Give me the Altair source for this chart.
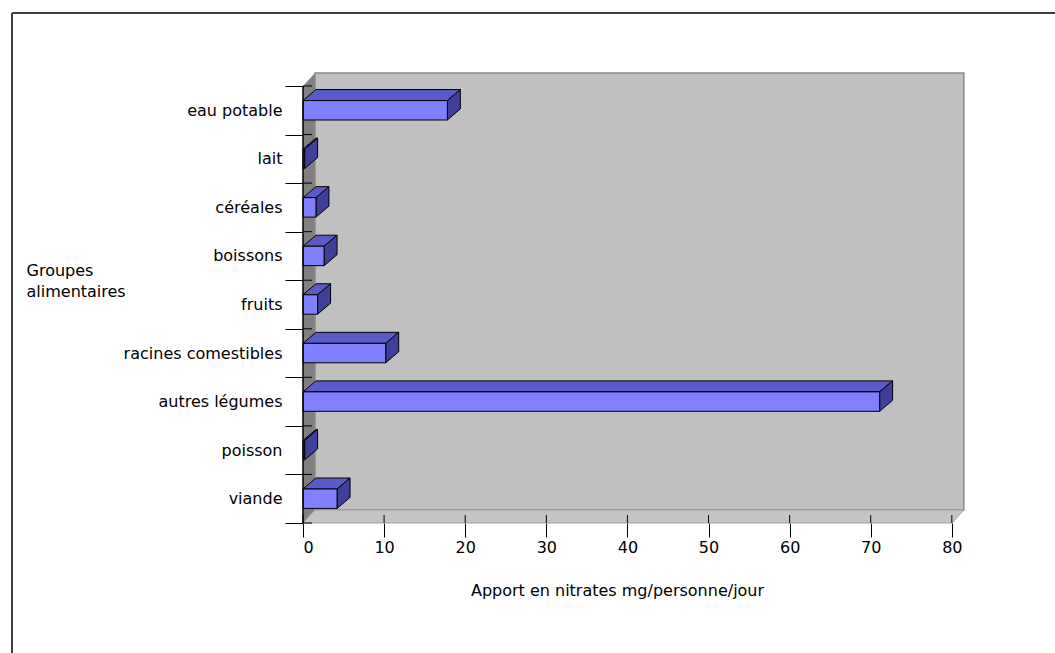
import altair as alt
import pandas as pd

# ---- data ----
categories = ["eau potable", "lait", "céréales", "boissons", "fruits",
              "racines comestibles", "autres légumes", "poisson", "viande"]
values = [17.8, 0.2, 1.6, 2.6, 1.8, 10.2, 71.1, 0.2, 4.2]
x_ticks = [0, 10, 20, 30, 40, 50, 60, 70, 80]
x_title = "Apport en nitrates mg/personne/jour"
y_title = ["Groupes", "alimentaires"]

# ---- geometry (in data units) ----
n = len(categories)
XMAX = 80
WALL_DX, WALL_DY = 1.48, 0.268
BAR_DX, BAR_DY = 1.6, 0.227
HALF = 0.2
XDOM = [0, 81.5]
YDOM = [0, 9.268]
FONT = "DejaVu Sans"
PLOT_H = 450

pos = [n - i - 0.5 for i in range(n)]
y_bounds = list(range(n + 1))

xscale = alt.Scale(domain=XDOM, nice=False, zero=False)
yscale = alt.Scale(domain=YDOM, nice=False, zero=False)

xaxis = alt.Axis(values=x_ticks, domain=False, grid=False, tickSize=14,
                 tickColor="black", tickWidth=1, labelFont=FONT, labelFontSize=16,
                 labelColor="black", labelPadding=2, titleFont=FONT, titleFontSize=16,
                 titleFontWeight="normal", titleColor="black", titleX=314, titleY=67,
                 titleAlign="center", titleBaseline="middle")

yvals = [k * 0.5 for k in range(2 * n + 1)]
expr = "".join(f"datum.value == {p} ? '{c}' : " for p, c in zip(pos, categories)) + "''"
yaxis = alt.Axis(values=yvals, labelExpr=expr, domain=False, grid=False,
                 tickSize=18, tickColor="black", tickWidth=1,
                 tickOpacity={"condition": {"test": "datum.value % 1 == 0", "value": 1}, "value": 0},
                 labelFont=FONT, labelFontSize=16, labelColor="black", labelPadding=3,
                 labelOverlap=False, labelBound=False,
                 titleFont=FONT, titleFontSize=16, titleFontWeight="normal", titleColor="black",
                 titleAngle=0, titleAlign="left", titleBaseline="top", titleX=-277, titleY=189,
                 titleLineHeight=21)


def X(f):
    return alt.X(f"{f}:Q", scale=xscale, axis=xaxis, title=x_title, stack=None)


def Y(f):
    return alt.Y(f"{f}:Q", scale=yscale, axis=yaxis, title=y_title, stack=None)


# walls
left_wall = pd.DataFrame({"x": [0, WALL_DX], "y": [0, WALL_DY], "y2": [n, n + WALL_DY]})
floor = pd.DataFrame({"y": [0, WALL_DY], "x": [0, WALL_DX], "x2": [XMAX, XMAX + WALL_DX]})
back = pd.DataFrame({"x": [WALL_DX], "x2": [XMAX + WALL_DX], "y": [WALL_DY], "y2": [n + WALL_DY]})
ydom_line = pd.DataFrame({"x": [0], "y": [0], "y2": [n]})
ytick_df = pd.DataFrame({"y": y_bounds})
xtick_df = pd.DataFrame({"x": x_ticks})

# bar faces
front_rows, top_rows, side_rows = [], [], []
for c, v, p in zip(categories, values, pos):
    front_rows.append({"cat": c, "x": 0, "x2": v, "y": p - HALF, "y2": p + HALF})
    top_rows.append({"cat": c, "y": p + HALF, "x": 0, "x2": v})
    top_rows.append({"cat": c, "y": p + HALF + BAR_DY, "x": BAR_DX, "x2": v + BAR_DX})
    side_rows.append({"cat": c, "x": v, "y": p - HALF, "y2": p + HALF})
    side_rows.append({"cat": c, "x": v + BAR_DX, "y": p - HALF + BAR_DY, "y2": p + HALF + BAR_DY})
front = pd.DataFrame(front_rows)
top = pd.DataFrame(top_rows)
side = pd.DataFrame(side_rows)

l_left = alt.Chart(left_wall).mark_area(orient="vertical", color="#808080").encode(
    x=X("x"), y=Y("y"), y2="y2")
l_back = alt.Chart(back).mark_rect(color="#c0c0c0", stroke="#8a8a8a", strokeWidth=1.5).encode(
    x=X("x"), x2="x2", y=Y("y"), y2="y2")
l_floor = alt.Chart(floor).mark_area(orient="horizontal", color="#c4c4c4", stroke="#a0a0a0",
                                     strokeWidth=1).encode(x=X("x"), x2="x2", y=Y("y"))
l_top = alt.Chart(top).mark_area(orient="horizontal", color="#5a5ac8", stroke="black",
                                 strokeWidth=1).encode(x=X("x"), x2="x2", y=Y("y"), detail="cat:N")
l_side = alt.Chart(side).mark_area(orient="vertical", color="#40409a", stroke="black",
                                   strokeWidth=1).encode(x=X("x"), y=Y("y"), y2="y2", detail="cat:N")
l_front = alt.Chart(front).mark_rect(color="#8080ff", stroke="black", strokeWidth=1).encode(
    x=X("x"), x2="x2", y=Y("y"), y2="y2")
l_ydom = alt.Chart(ydom_line).mark_rule(color="black", strokeWidth=1.5).encode(
    x=alt.value(0), y=Y("y"), y2="y2")
# inner halves of the ticks (they cross the axis lines in the reference)
l_ytick_in = alt.Chart(ytick_df).mark_rule(color="black", strokeWidth=1).encode(
    x=alt.value(0), x2=alt.value(9), y=Y("y"))
l_xtick_in = alt.Chart(xtick_df).mark_rule(color="black", strokeWidth=1).encode(
    x=X("x"), y=alt.value(PLOT_H - 8), y2=alt.value(PLOT_H))

one = pd.DataFrame({"a": [0]})
b_top = alt.Chart(one).mark_rule(color="#404040", strokeWidth=2).encode(
    x=alt.value(-291), x2=alt.value(800), y=alt.value(-60))
b_left = alt.Chart(one).mark_rule(color="#404040", strokeWidth=2).encode(
    x=alt.value(-291), y=alt.value(-60), y2=alt.value(700))

chart = alt.layer(l_left, l_back, l_floor, l_top, l_side, l_front, l_ydom,
                  l_ytick_in, l_xtick_in, b_top, b_left).properties(
    width=661, height=PLOT_H,
    autosize=alt.AutoSizeParams(type="none"),
    padding={"left": 303, "top": 73, "right": 91, "bottom": 130},
    background="white",
).configure_view(stroke=None)

chart.save("out.html", embed_options={"renderer": "svg", "actions": False})
